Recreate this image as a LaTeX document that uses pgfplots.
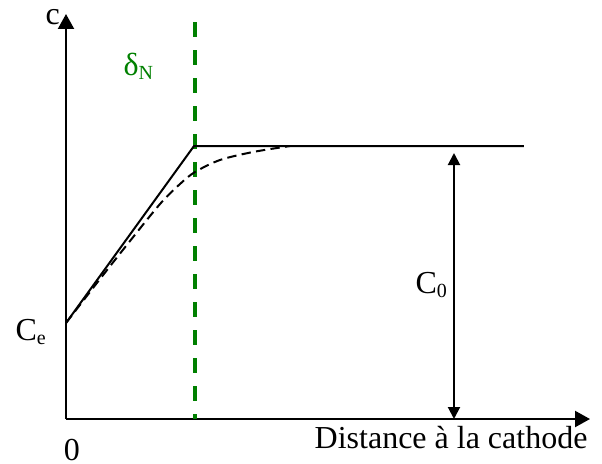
\documentclass[border=0pt]{standalone}
\usepackage{fontspec}
\setmainfont{Liberation Serif}
\usepackage{pgfplots}
\pgfplotsset{compat=1.18}
\usetikzlibrary{arrows.meta}

\definecolor{nernstgreen}{RGB}{0,128,0}
\newcommand{\sub}[1]{\raisebox{-1.8pt}{\fontsize{7.5}{9}\selectfont #1}}
\tikzset{lbl/.style={inner sep=0pt, font=\fontsize{12}{14}\selectfont}}

\begin{document}
\begin{tikzpicture}
\begin{axis}[
  width=196.5pt, height=151.875pt,
  scale only axis,
  xmin=0, xmax=524,
  ymin=0, ymax=405,
  hide axis,
  clip=false,
]
% invisible frame for page size
\path (axis cs:-66,-44) rectangle (axis cs:536,419);

% axes
\addplot [line width=0.75pt, -{Triangle[length=5.6pt,width=6pt]}]
  coordinates {(0,0) (0,405)};
\addplot [line width=0.75pt, -{Triangle[length=5.6pt,width=6pt]}]
  coordinates {(0,0) (524,0)};

% Nernst layer limit
\addplot [nernstgreen, line width=1.5pt, dash pattern=on 5.6pt off 4.9pt]
  coordinates {(129,397) (129,0)};

% linear model
\addplot [black, line width=0.75pt]
  coordinates {(0,96) (128,273) (458,273)};

% real profile
\addplot [black, line width=0.75pt, dash pattern=on 3.5pt off 2pt, smooth]
  coordinates {(0,96) (34,140) (64,178) (94,215) (114,235) (129,247) (154,259) (187,267) (224,273)};

% C0 double arrow
\addplot [black, line width=0.75pt, {Triangle[length=4.5pt,width=4.5pt]}-{Triangle[length=4.5pt,width=4.5pt]}]
  coordinates {(388,0) (388,266)};

% labels
\node [lbl, anchor=base west] at (axis cs:-21,395) {c};
\node [lbl, anchor=base west, text=nernstgreen] at (axis cs:57,344) {δ\sub{N}};
\node [lbl, anchor=base west] at (axis cs:-51,79) {C\sub{e}};
\node [lbl, anchor=base west] at (axis cs:349,126) {C\sub{0}};
\node [lbl, anchor=base] at (axis cs:6,-41) {0};
\node [lbl, anchor=base east] at (axis cs:522,-29) {Distance à la cathode};
\end{axis}
\end{tikzpicture}
\end{document}
